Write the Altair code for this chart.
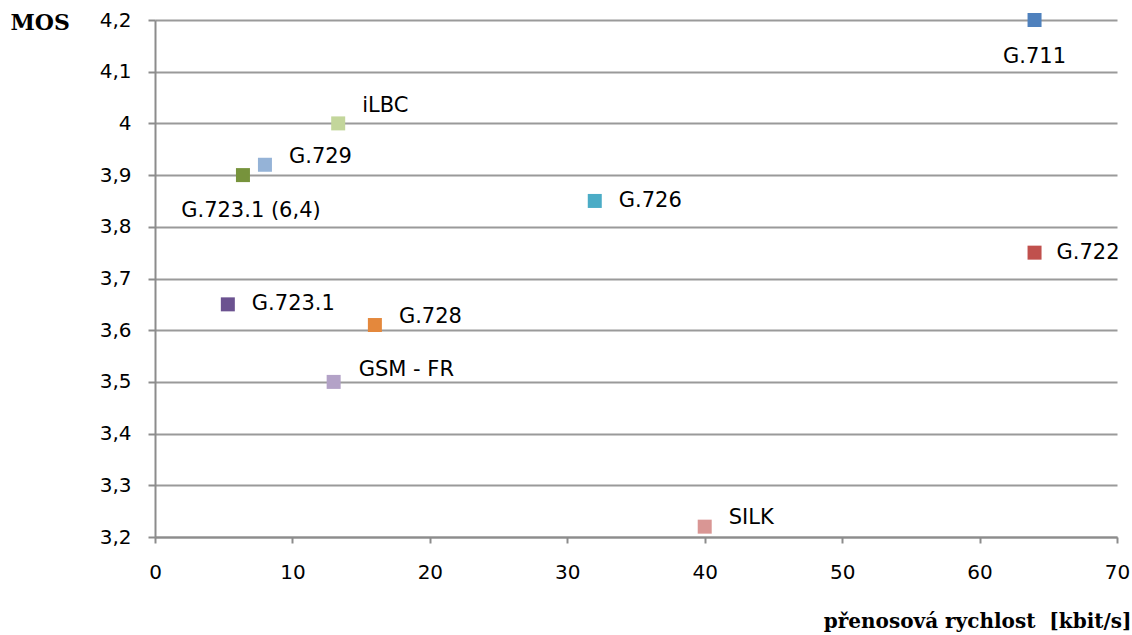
import altair as alt
import pandas as pd

# Codec bitrate (kbit/s) vs. MOS score
codecs = ["G.711", "G.722", "iLBC", "G.729", "G.723.1 (6,4)", "G.726",
          "G.723.1", "G.728", "GSM - FR", "SILK"]
bitrate = [64, 64, 13.33, 8, 6.4, 32, 5.3, 16, 13, 40]
mos = [4.2, 3.75, 4.0, 3.92, 3.9, 3.85, 3.65, 3.61, 3.5, 3.22]
colors = ["#4F81BD", "#C0504D", "#C3D69B", "#95B3D7", "#77933C", "#4BACC6",
          "#6B5290", "#E4883C", "#B3A2C7", "#D99694"]

df = pd.DataFrame({"codec": codecs, "rate": bitrate, "mos": mos})

FONT = "DejaVu Sans"
SERIF = "DejaVu Serif"
GRAY = "#8C8C8C"

x = alt.X("rate:Q", scale=alt.Scale(domain=[0, 70], nice=False),
          axis=alt.Axis(values=list(range(0, 71, 10)), grid=False,
                        title="přenosová rychlost\u00a0 [kbit/s]",
                        titleFont=SERIF, titleFontSize=20,
                        titleFontWeight="bold", titleColor="#000",
                        titleAnchor="end", titleAlign="right",
                        titleX=976, titleY=84, titleBaseline="middle",
                        labelFont=FONT, labelFontSize=20, labelColor="#000",
                        labelFlush=False,
                        labelPadding=19, tickSize=6, tickColor=GRAY,
                        tickWidth=2, domainColor=GRAY, domainWidth=2))
y = alt.Y("mos:Q", scale=alt.Scale(domain=[3.2, 4.2], nice=False, zero=False),
          axis=alt.Axis(values=[3.2, 3.3, 3.4, 3.5, 3.6, 3.7, 3.8, 3.9, 4.0, 4.1, 4.2],
                        labelExpr="replace(format(datum.value, '.1~f'), '.', ',')",
                        title="MOS", titleAngle=0, titleFont=SERIF,
                        titleFontSize=22, titleFontWeight="bold", titleColor="#000",
                        titleAlign="left", titleBaseline="middle",
                        titleX=-145, titleY=2,
                        grid=True, gridColor="#9A9A9A", gridWidth=2,
                        labelFont=FONT, labelFontSize=20, labelColor="#000",
                        labelFlush=False,
                        labelPadding=17, tickSize=7, tickColor=GRAY,
                        tickWidth=2, domainColor=GRAY, domainWidth=2))

points = alt.Chart(df).mark_square(size=196, opacity=1).encode(
    x=x, y=y,
    color=alt.Color("codec:N", scale=alt.Scale(domain=codecs, range=colors),
                    legend=None),
)

# label placement: (align, dx, dy) per codec
placement = {
    "G.711": ("center", 0, 37),
    "G.722": ("left", 22, 0),
    "iLBC": ("left", 24, -17),
    "G.729": ("left", 24, -8),
    "G.723.1 (6,4)": ("center", 8, 36),
    "G.726": ("left", 24, 0),
    "G.723.1": ("left", 24, 0),
    "G.728": ("left", 24, -8),
    "GSM - FR": ("left", 25, -12),
    "SILK": ("left", 24, -9),
}

labels = []
for name in codecs:
    align, dx, dy = placement[name]
    labels.append(
        alt.Chart(df).transform_filter(alt.datum.codec == name)
        .mark_text(align=align, baseline="middle", dx=dx, dy=dy,
                   font=FONT, fontSize=21, color="#000")
        .encode(x="rate:Q", y="mos:Q", text="codec:N")
    )

chart = alt.layer(points, *labels).properties(
    width=962, height=517,
    autosize=alt.AutoSizeParams(type="none"),
    padding={"left": 155, "top": 20, "right": 15, "bottom": 98},
    background="white",
).configure_view(stroke=None)

chart.save("out.html", embed_options={"renderer": "svg", "actions": False})
